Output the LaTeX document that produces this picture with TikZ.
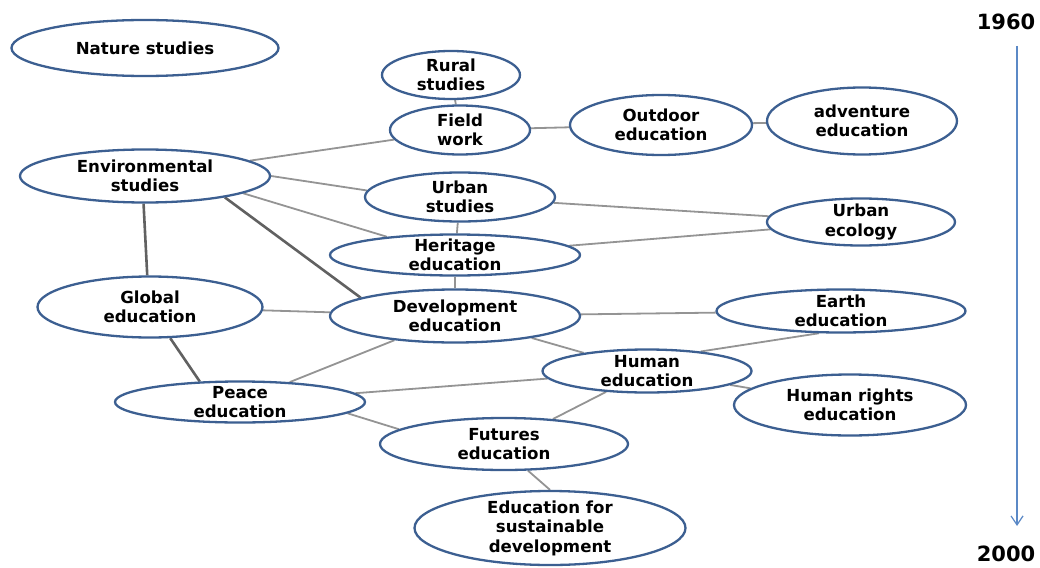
\documentclass[tikz,border=0pt]{standalone}
\usepackage{fontspec}
\setmainfont{DejaVu Sans}
\usetikzlibrary{shapes.geometric,arrows.meta,backgrounds}
\definecolor{ellblue}{HTML}{3C5F91}
\definecolor{timeblue}{HTML}{5B89C6}
\begin{document}
\begin{tikzpicture}[x=1pt,y=-1pt,
  ell/.style={ellipse,draw=ellblue,line width=2.3pt,fill=white,inner sep=0pt},
  lbl/.style={font=\fontsize{16.6}{19.5}\selectfont\bfseries,align=center,inner sep=0pt},
  yr/.style={font=\fontsize{21}{24}\selectfont\bfseries,inner sep=0pt},
  conn/.style={draw=black!42,line width=1.8pt},
  dconn/.style={draw=black!62,line width=2.6pt}]
\useasboundingbox (0,0) rectangle (1040,567);
% ellipses
\node[ell,minimum width=267pt,minimum height=56pt] (nature) at (145,48) {};
\node[ell,minimum width=138pt,minimum height=48pt] (rural) at (451,75) {};
\node[ell,minimum width=140pt,minimum height=49pt] (field) at (460,130) {};
\node[ell,minimum width=182pt,minimum height=60pt] (outdoor) at (661,125) {};
\node[ell,minimum width=190pt,minimum height=67pt] (adv) at (862,121) {};
\node[ell,minimum width=250pt,minimum height=53pt] (env) at (145,176) {};
\node[ell,minimum width=190pt,minimum height=49pt] (urban) at (460,197) {};
\node[ell,minimum width=188pt,minimum height=47pt] (ueco) at (861,222) {};
\node[ell,minimum width=250pt,minimum height=41pt] (herit) at (455,255) {};
\node[ell,minimum width=225pt,minimum height=61pt] (glob) at (150,307) {};
\node[ell,minimum width=250pt,minimum height=53pt] (dev) at (455,316) {};
\node[ell,minimum width=249pt,minimum height=43pt] (earth) at (841,311) {};
\node[ell,minimum width=209pt,minimum height=43pt] (human) at (647,371) {};
\node[ell,minimum width=232pt,minimum height=61pt] (hr) at (850,405) {};
\node[ell,minimum width=250pt,minimum height=41pt] (peace) at (240,402) {};
\node[ell,minimum width=248pt,minimum height=52pt] (fut) at (504,444) {};
\node[ell,minimum width=271pt,minimum height=74pt] (esd) at (550,528) {};
% labels
\node[lbl] (natureT) at (nature) {Nature studies};
\node[lbl] (ruralT) at (rural) {Rural\\studies};
\node[lbl] (fieldT) at (field) {Field\\work};
\node[lbl] (outdoorT) at (outdoor) {Outdoor\\education};
\node[lbl] (advT) at (adv) {adventure\\education};
\node[lbl] (envT) at (env) {Environmental\\studies};
\node[lbl] (urbanT) at (urban) {Urban\\studies};
\node[lbl] (uecoT) at (ueco) {Urban\\ecology};
\node[lbl] (heritT) at (herit) {Heritage\\education};
\node[lbl] (globT) at (glob) {Global\\education};
\node[lbl] (devT) at (dev) {Development\\education};
\node[lbl] (earthT) at (earth) {Earth\\education};
\node[lbl] (humanT) at (human) {Human\\education};
\node[lbl] (hrT) at (hr) {Human rights\\education};
\node[lbl] (peaceT) at (peace) {Peace\\education};
\node[lbl] (futT) at (fut) {Futures\\education};
\node[lbl] (esdT) at (esd) {Education for\\sustainable\\development};
% timeline
\node[yr] (y1960) at (1006,22) {1960};
\node[yr] (y2000) at (1006,554) {2000};
\coordinate (tTop) at (1017,46);
\coordinate (tBot) at (1017,526);
\draw[draw=timeblue,line width=1.4pt,-{Straight Barb[length=9pt,width=12pt,line width=1.2pt]}] (tTop) -- (tBot);
% connectors
\begin{scope}[on background layer]
\draw[conn] (rural) -- (field);
\draw[conn] (field) -- (outdoor);
\draw[conn] (outdoor) -- (adv);
\draw[conn] (env) -- (field);
\draw[conn] (env.east) -- (urban.176);
\draw[conn] (env.-10) -- (herit.165);
\draw[dconn] (env.-15) -- (dev.169);
\draw[dconn] (env.-93) -- (glob.95);
\draw[conn] (urban) -- (herit);
\draw[conn] (urban) -- (ueco);
\draw[conn] (herit) -- (ueco);
\draw[conn] (herit) -- (dev);
\draw[conn] (glob) -- (dev);
\draw[conn] (dev) -- (earth);
\draw[conn] (dev) -- (human);
\draw[conn] (dev) -- (peace);
\draw[dconn] (glob.-57) -- (peace.153);
\draw[conn] (peace) -- (human);
\draw[conn] (earth.-135) -- (human.20);
\draw[conn] (human) -- (hr);
\draw[conn] (peace.-6) -- (fut.172);
\draw[conn] (human) -- (fut);
\draw[conn] (fut.-48) -- (esd.north);
\end{scope}
\end{tikzpicture}
\end{document}
